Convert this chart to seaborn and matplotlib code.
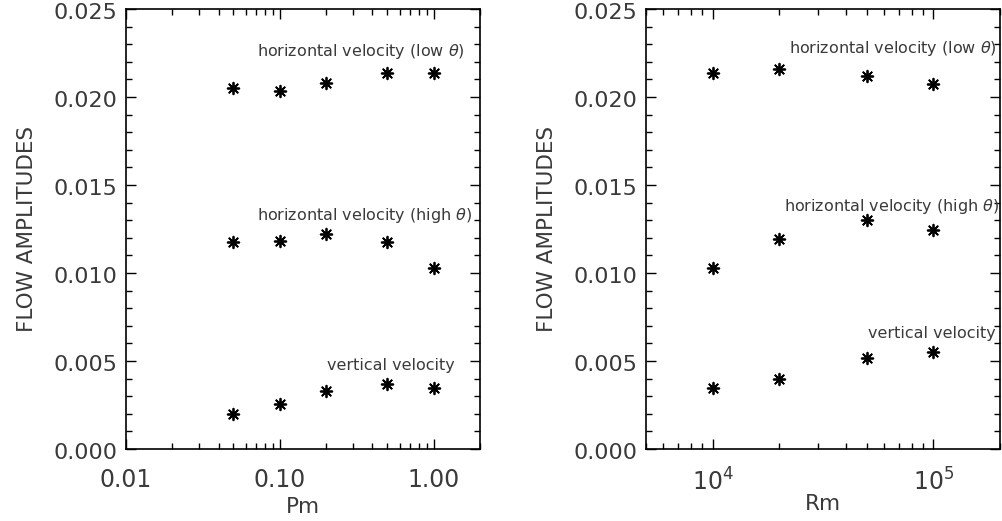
import numpy as np
import pandas as pd
import seaborn as sns
import matplotlib.pyplot as plt
import matplotlib.transforms as mtrans
from matplotlib.ticker import MultipleLocator, FixedLocator, FuncFormatter, LogLocator

# data
pm = [0.05, 0.1, 0.2, 0.5, 1.0]
pm_low = [0.02053, 0.02036, 0.02078, 0.02138, 0.02138]
pm_high = [0.01178, 0.01182, 0.01224, 0.01175, 0.01026]
pm_vert = [0.00198, 0.00253, 0.00330, 0.00368, 0.00347]

rm = [1e4, 2e4, 5e4, 1e5]
rm_low = [0.02134, 0.02161, 0.02119, 0.02072]
rm_high = [0.01026, 0.01193, 0.01303, 0.01243]
rm_vert = [0.00347, 0.00396, 0.00516, 0.00553]

labels = ['horizontal velocity (low $\\theta$)',
          'horizontal velocity (high $\\theta$)',
          'vertical velocity']

sns.set_theme(style='ticks')
plt.rcParams['font.family'] = ['DejaVu Sans']
plt.rcParams['mathtext.fontset'] = 'dejavusans'
txt_col = '#3a3a3a'


def long_frame(x, series):
    rows = []
    for name, ys in series.items():
        for xi, yi in zip(x, ys):
            rows.append({'x': xi, 'y': yi, 'series': name})
    return pd.DataFrame(rows)


def style_axis(ax):
    ax.set_xscale('log')
    ax.set_ylim(0, 0.025)
    ax.yaxis.set_major_locator(MultipleLocator(0.005))
    ax.yaxis.set_minor_locator(MultipleLocator(0.001))
    ax.yaxis.set_major_formatter(FuncFormatter(lambda v, p: '%.3f' % v))
    ax.xaxis.set_minor_locator(LogLocator(base=10, subs=np.arange(2, 10)))
    ax.tick_params(which='both', direction='in', top=True, right=True,
                   color='black', width=1.0, labelcolor=txt_col)
    ax.tick_params(which='major', length=7)
    ax.tick_params(which='minor', length=4)
    ax.tick_params(axis='x', which='major', pad=14, labelsize=17)
    ax.tick_params(axis='y', which='major', pad=6, labelsize=16)
    for s in ax.spines.values():
        s.set_visible(True)
        s.set_linewidth(1.2)
        s.set_color('black')
    ax.set_ylabel('FLOW AMPLITUDES', fontsize=15.5, color=txt_col, labelpad=12)


fig = plt.figure(figsize=(10.02, 5.21), dpi=100)
ax1 = fig.add_axes([0.1257, 0.1382, 0.3533, 0.8445])
ax2 = fig.add_axes([0.6447, 0.1382, 0.3533, 0.8445])

df1 = long_frame(pm, {'low': pm_low, 'high': pm_high, 'vert': pm_vert})
df2 = long_frame(rm, {'low': rm_low, 'high': rm_high, 'vert': rm_vert})

for ax, df in [(ax1, df1), (ax2, df2)]:
    sns.scatterplot(data=df, x='x', y='y', ax=ax, marker=(8, 2, 0),
                    color='black', s=70, linewidth=1.3, legend=False)
    style_axis(ax)

ax1.set_xlim(0.01, 2.0)
ax1.xaxis.set_major_locator(FixedLocator([0.01, 0.1, 1.0]))
ax1.xaxis.set_major_formatter(FuncFormatter(lambda v, p: '%.2f' % v))
ax1.set_xlabel('Pm', fontsize=15.5, color=txt_col, labelpad=3)

ax2.set_xlim(5000, 2e5)
ax2.xaxis.set_major_locator(FixedLocator([1e4, 1e5]))
ax2.xaxis.set_major_formatter(FuncFormatter(lambda v, p: '$10^{%d}$' % round(np.log10(v))))
ax2.set_xlabel('Rm', fontsize=15.5, color=txt_col, labelpad=-1)

# y labels sit a little below their ticks in the original
shift = mtrans.ScaledTranslation(0, -1.5 / 72, fig.dpi_scale_trans)
for ax in (ax1, ax2):
    for lab in ax.get_yticklabels():
        lab.set_transform(lab.get_transform() + shift)

# curve labels
ax1.text(0.071, 0.02257, labels[0], fontsize=11.5, color=txt_col, va='center')
ax1.text(0.071, 0.01329, labels[1], fontsize=11.5, color=txt_col, va='center')
ax1.text(0.202, 0.00475, labels[2], fontsize=11.5, color=txt_col, va='center')
ax2.text(2.21e4, 0.02275, labels[0], fontsize=11.5, color=txt_col, va='center')
ax2.text(2.1e4, 0.01376, labels[1], fontsize=11.5, color=txt_col, va='center')
ax2.text(5.03e4, 0.00658, labels[2], fontsize=11.5, color=txt_col, va='center')

plt.savefig('out.png', dpi=100)
